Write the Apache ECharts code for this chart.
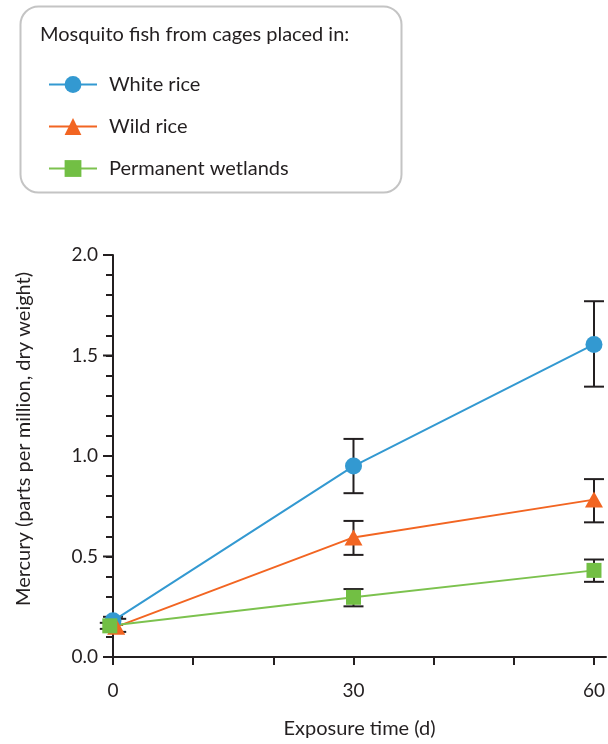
<!DOCTYPE html>
<html>
<head>
<meta charset="utf-8">
<script src="https://cdn.jsdelivr.net/npm/echarts@6/dist/echarts.min.js"></script>
<style>
html,body{margin:0;padding:0;background:#fff;}
#chart{width:608px;height:744px;}
</style>
</head>
<body>
<div id="chart"></div>
<script>
// ---- data ----
var seriesNames = ['White rice', 'Wild rice', 'Permanent wetlands'];
var days = [0, 30, 60];
var whiteRice = [0.18, 0.95, 1.555];
var whiteRiceLow = [0.16, 0.815, 1.345];
var whiteRiceHigh = [0.20, 1.085, 1.77];
var wildRice = [0.15, 0.595, 0.783];
var wildRiceLow = [0.125, 0.508, 0.67];
var wildRiceHigh = [0.19, 0.677, 0.885];
var wetlands = [0.155, 0.297, 0.431];
var wetlandsLow = [0.14, 0.252, 0.374];
var wetlandsHigh = [0.17, 0.338, 0.485];
// small horizontal offsets of the overlapping markers at day 0
var dayOffsetWhite = [0, 0, 0];
var dayOffsetWild = [0.4, 0, 0];
var dayOffsetWet = [-0.4, 0, 0];
var xTicks = [0, 10, 20, 30, 40, 50, 60];
var xLabels = [0, 30, 60];
var yMajor = [0, 0.5, 1.0, 1.5, 2.0];
var yAllTicks = [0, 0.1, 0.2, 0.3, 0.4, 0.5, 0.6, 0.7, 0.8, 0.9, 1.0, 1.1, 1.2, 1.3, 1.4, 1.5, 1.6, 1.7, 1.8, 1.9, 2.0];
var legendTitle = 'Mosquito fish from cages placed in:';
var xName = 'Exposure time (d)';
var yName = 'Mercury (parts per million, dry weight)';

var colors = ['#3399d1', '#f26522', '#72bf44'];
var textColor = '#231f20';
var font = 'Lato';

function pts(vals, offs) {
  return vals.map(function (v, i) { return [days[i] + offs[i], v]; });
}
function errs(low, high, offs) {
  return low.map(function (l, i) { return [days[i] + offs[i], l, high[i]]; });
}
var allErr = [].concat(
  errs(whiteRiceLow, whiteRiceHigh, dayOffsetWhite),
  errs(wildRiceLow, wildRiceHigh, dayOffsetWild),
  errs(wetlandsLow, wetlandsHigh, dayOffsetWet)
);

var chart = echarts.init(document.getElementById('chart'), null, {renderer: 'canvas'});
chart.setOption({
  animation: false,
  backgroundColor: '#fff',
  textStyle: {fontFamily: font, color: textColor},
  grid: {left: 113, right: 0, top: 255, bottom: 82, containLabel: false},
  xAxis: {
    type: 'value', min: 0, max: 61.5,
    splitLine: {show: false},
    axisLine: {onZero: false, lineStyle: {color: textColor, width: 2}},
    axisTick: {customValues: xTicks, length: 8, lineStyle: {color: textColor, width: 2}},
    axisLabel: {customValues: xLabels, margin: 24, fontSize: 19, color: textColor, fontFamily: font},
    name: xName, nameLocation: 'middle', nameGap: 62,
    nameTextStyle: {fontSize: 20, color: textColor, fontFamily: font}
  },
  yAxis: {
    type: 'value', min: 0, max: 2.0,
    splitLine: {show: false},
    axisLine: {onZero: false, lineStyle: {color: textColor, width: 2}},
    axisTick: {show: true, customValues: yAllTicks, length: 7, lineStyle: {color: textColor, width: 2}},
    axisLabel: {customValues: yMajor, margin: 15, fontSize: 19, color: textColor, fontFamily: font,
      formatter: function (v) { return v.toFixed(1); }}
  },
  legend: {
    orient: 'vertical', left: 48, top: 74, padding: 0,
    itemWidth: 48, itemHeight: 21, itemGap: 21,
    textStyle: {fontSize: 20, lineHeight: 21, color: textColor, fontFamily: font, padding: [0, 0, 0, 7]},
    data: seriesNames
  },
  graphic: [
    {type: 'rect', left: 18, top: 4, shape: {width: 381, height: 186, r: 18},
      style: {fill: 'none', stroke: '#c4c4c4', lineWidth: 2}, z: 0},
    {type: 'text', x: 40, y: 35,
      style: {text: legendTitle, font: '20px "' + font + '"', fill: textColor, verticalAlign: 'middle'}},
    {type: 'text', x: 24, y: 439, rotation: Math.PI / 2,
      style: {text: yName, font: '20px "' + font + '"', fill: textColor, align: 'center', verticalAlign: 'middle'}}
  ],
  series: [
    {
      type: 'custom', name: 'err', silent: true, z: 1, clip: false,
      data: allErr,
      renderItem: function (params, api) {
        var x = api.value(0);
        var lo = api.coord([x, api.value(1)]);
        var hi = api.coord([x, api.value(2)]);
        var hw = 10;
        var st = {stroke: textColor, lineWidth: 2};
        return {type: 'group', children: [
          {type: 'line', shape: {x1: lo[0], y1: lo[1], x2: hi[0], y2: hi[1]}, style: st},
          {type: 'line', shape: {x1: lo[0] - hw, y1: lo[1], x2: lo[0] + hw, y2: lo[1]}, style: st},
          {type: 'line', shape: {x1: hi[0] - hw, y1: hi[1], x2: hi[0] + hw, y2: hi[1]}, style: st}
        ]};
      }
    },
    {
      // longer major ticks of the y axis
      type: 'custom', name: 'majorTicks', silent: true, z: 1, clip: false,
      data: yMajor.map(function (v) { return [0, v]; }),
      renderItem: function (params, api) {
        var p = api.coord([0, api.value(1)]);
        return {type: 'line', shape: {x1: p[0] - 10, y1: p[1], x2: p[0], y2: p[1]},
          style: {stroke: textColor, lineWidth: 2}};
      }
    },
    {name: seriesNames[0], type: 'line', z: 3, clip: false, data: pts(whiteRice, dayOffsetWhite),
      symbol: 'circle', symbolSize: 17, showAllSymbol: true,
      itemStyle: {color: colors[0]}, lineStyle: {color: colors[0], width: 2}},
    {name: seriesNames[1], type: 'line', z: 3, clip: false, data: pts(wildRice, dayOffsetWild),
      symbol: 'triangle', symbolSize: [18, 16],
      itemStyle: {color: colors[1]}, lineStyle: {color: colors[1], width: 2}},
    {name: seriesNames[2], type: 'line', z: 3, clip: false, data: pts(wetlands, dayOffsetWet),
      symbol: 'rect', symbolSize: 15,
      itemStyle: {color: colors[2]}, lineStyle: {color: '#7cc24e', width: 2}}
  ]
});
</script>
</body>
</html>
